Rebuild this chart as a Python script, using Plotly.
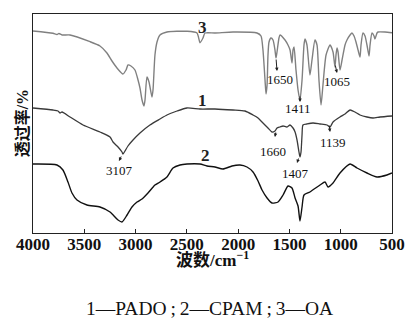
import plotly.graph_objects as go

# ---- data (wavenumber cm-1, relative transmittance with stacking offset) ----
oa_wn = [4000, 3805, 3766, 3747, 3717, 3639, 3444, 3347, 3279, 3230, 3181, 3123, 3093, 3074, 3045,
         3006, 2976, 2957, 2937, 2918, 2908, 2889, 2869, 2840, 2830, 2811, 2791, 2762, 2694, 2499,
         2401, 2372, 2343, 2323, 2226, 2050, 1816, 1777, 1758, 1738, 1728, 1718, 1709, 1699, 1680,
         1660, 1641, 1631, 1621, 1602, 1592, 1543, 1514, 1494, 1475, 1465, 1455, 1436, 1416, 1397,
         1377, 1358, 1348, 1329, 1300, 1280, 1251, 1231, 1212, 1192, 1173, 1143, 1104, 1075, 1056,
         1046, 1036, 1026, 1007, 987, 958, 939, 909, 890, 870, 851, 831, 812, 802, 783,
         763, 744, 724, 714, 695, 675, 666, 646, 636, 568, 500]
oa_t = [202, 199.7, 198.5, 199.5, 198, 198, 191.3, 187, 180, 172, 165, 159, 163, 168, 167,
        163, 153, 145, 133, 127, 133, 156, 151, 136, 143, 178, 191, 198, 201, 201.7,
        200, 190.3, 195, 200, 200, 201, 200, 197, 183, 153, 139, 148, 178, 191, 195,
        193, 183, 175, 181, 195, 198, 193, 188, 183, 170, 183, 186, 163, 143, 133,
        153, 188, 194, 188, 158, 173, 193, 188, 153, 128, 148, 178, 188, 181, 166,
        178, 185, 181, 163, 173, 188, 193, 198, 200, 197, 191, 183, 176, 188, 200,
        197, 188, 177, 188, 200, 197, 194, 200, 201, 201, 200.3]

pado_wn = [4000, 3805, 3756, 3737, 3717, 3639, 3512, 3347, 3249, 3220, 3171, 3132, 3123, 3103, 3074,
           3025, 2957, 2860, 2762, 2694, 2596, 2499, 2372, 2226, 2050, 1933, 1855, 1806, 1758, 1709,
           1670, 1641, 1621, 1592, 1562, 1524, 1494, 1465, 1445, 1426, 1407, 1397, 1387, 1377, 1368,
           1329, 1270, 1202, 1134, 1104, 1075, 1007, 958, 909, 861, 812, 744, 685, 617, 500]
pado_t = [125, 123, 122, 120, 121, 116, 108, 101, 96, 91, 86, 81, 79, 82, 87,
          93, 100, 108, 114, 118, 122, 125, 124, 124, 123, 122, 118, 115, 110, 105,
          101, 102, 105, 106, 107, 106, 108, 105, 101, 93, 81, 76, 81, 98, 108,
          109, 110, 109, 108, 106, 111, 116, 119, 123, 121, 118, 116, 115, 116, 117]

cpam_wn = [4000, 3766, 3708, 3659, 3620, 3571, 3474, 3347, 3249, 3171, 3132, 3083, 3035, 2986, 2937,
           2879, 2811, 2762, 2694, 2635, 2567, 2499, 2372, 2304, 2226, 2148, 2060, 1982, 1914, 1855,
           1806, 1767, 1718, 1670, 1611, 1562, 1514, 1475, 1445, 1416, 1397, 1377, 1358, 1300, 1202,
           1153, 1124, 1075, 1007, 909, 841, 744, 646, 549, 500]
cpam_t = [69, 68, 63, 51, 40, 33, 28, 26, 21, 13, 11, 18, 26, 31, 34,
          40, 48, 51, 56, 65, 68, 69, 69, 67, 66, 64, 67, 68, 66, 61,
          52, 43, 35, 30, 31, 38, 47, 45, 35, 27, 12, 26, 38, 41, 48,
          51, 46, 50, 60, 69, 65, 60, 56, 58, 60]

x_ticks = [4000, 3500, 3000, 2500, 2000, 1500, 1000, 500]

# peak labels: (text, text_wn, text_t, head_wn, head_t, ax, ay)
peak_labels = [
    ("1650", 1592, 154, 1621, 162, -1, -13),
    ("1411", 1416, 125, 1397, 131, 0, -7),
    ("1065", 1036, 152, 1036, 160, -2, -9),
    ("1660", 1660, 82, 1641, 96, 1, -6),
    ("1139", 1075, 91, 1104, 101, -1, -8),
    ("3107", 3152, 63, 3162, 72, 3, -6),
    ("1407", 1436, 60, 1426, 70, 2, -6),
]
curve_labels = [("3", 2352, 206), ("1", 2352, 133), ("2", 2323, 78)]
caption = "1—PADO\u2009;\u20092—CPAM\u2009;\u20093—OA"

SERIF = "Liberation Serif, Noto Sans CJK SC"

fig = go.Figure()
fig.add_trace(go.Scatter(x=oa_wn, y=oa_t, mode="lines", line=dict(color="#808080", width=1.4, shape="spline", smoothing=0.6), name="OA"))
fig.add_trace(go.Scatter(x=pado_wn, y=pado_t, mode="lines", line=dict(color="#3a3a3a", width=1.3, shape="spline", smoothing=0.6), name="PADO"))
fig.add_trace(go.Scatter(x=cpam_wn, y=cpam_t, mode="lines", line=dict(color="#111111", width=1.4, shape="spline", smoothing=0.6), name="CPAM"))

ann = []
for txt, tx, ty, hx, hy, ax, ay in peak_labels:
    ann.append(dict(x=tx, y=ty, text=txt, showarrow=False, font=dict(family=SERIF, size=13, color="#111")))
    ann.append(dict(x=hx, y=hy, text="", showarrow=True, ax=ax, ay=ay, arrowhead=2, arrowsize=0.7,
                    arrowwidth=1, arrowcolor="#222", standoff=0, startstandoff=0))
for txt, tx, ty in curve_labels:
    ann.append(dict(x=tx, y=ty, text="<b>" + txt + "</b>", showarrow=False, font=dict(family=SERIF, size=17, color="#222")))

ann.append(dict(xref="paper", yref="paper", x=-0.031, y=0.50, xanchor="center", yanchor="middle",
                text="<b>透过率/%</b>", textangle=-90,
                showarrow=False, font=dict(family=SERIF, size=16, color="#111")))
ann.append(dict(xref="paper", yref="paper", x=0.501, y=-0.121, xanchor="center", yanchor="middle",
                text="<b>波数/cm<sup>−1</sup></b>",
                showarrow=False, font=dict(family=SERIF, size=17, color="#111")))
ann.append(dict(xref="paper", yref="paper", x=0.493, y=-0.404, xanchor="center", yanchor="bottom",
                text=caption,
                showarrow=False, font=dict(family=SERIF, size=19.5, color="#111")))

fig.update_layout(
    width=407, height=323, margin=dict(l=33, r=15, t=14, b=90),
    paper_bgcolor="white", plot_bgcolor="white", showlegend=False,
    annotations=ann,
    xaxis=dict(range=[4000, 500], tickvals=x_ticks, ticks="inside", ticklen=4, tickcolor="#222",
               showline=True, linecolor="#222", linewidth=1.2, mirror=True, showgrid=False, zeroline=False,
               ticklabelstandoff=-5, automargin=False,
               tickfont=dict(family=SERIF, size=17, color="#111", weight="bold")),
    yaxis=dict(range=[0, 219], showticklabels=False, ticks="", showline=True, linecolor="#222", linewidth=1.2,
               mirror=True, showgrid=False, zeroline=False, automargin=False),
)
fig.write_html("out.html")
